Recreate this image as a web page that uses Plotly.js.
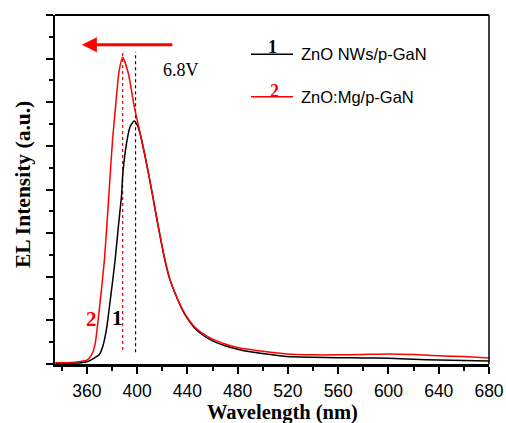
<!DOCTYPE html>
<html>
<head>
<meta charset="utf-8">
<script src="https://cdn.plot.ly/plotly-3.0.1.min.js"></script>
<style>html,body{margin:0;padding:0;background:#fff;}#chart{width:506px;height:423px;}</style>
</head>
<body>
<div id="chart"></div>
<script>
// Series 2: ZnO:Mg/p-GaN (red)
var wlMg = [335, 345, 355, 360, 363.7, 366.4, 368.2, 371.1, 373.8, 375.7, 377.5, 380.4, 382.8, 385.4, 388.4, 392.9, 397.7, 403.5, 408.8, 412.8, 416.7, 422, 426, 431.3, 436, 440, 445, 450, 460, 470, 480, 490, 500, 519, 540, 560, 580, 600, 620, 640, 660, 680];
var elMg = [0.03, 0.03, 0.06, 0.09, 0.21, 0.44, 0.82, 1.58, 2.35, 3.11, 3.88, 5.14, 5.9, 6.67, 7.03, 6.67, 5.9, 5.14, 4.4, 3.78, 3.17, 2.4, 1.95, 1.55, 1.25, 1.06, 0.87, 0.74, 0.57, 0.46, 0.38, 0.33, 0.29, 0.23, 0.21, 0.21, 0.22, 0.23, 0.22, 0.19, 0.17, 0.14];
// Series 1: ZnO NWs/p-GaN (black)
var wlNW = [335, 345, 355, 360, 363.7, 366.5, 369.8, 373, 375.7, 379.1, 382.3, 384.9, 387.6, 388.6, 392, 394.5, 397.7, 400.5, 403.5, 408.8, 412.8, 416.7, 422, 426, 431.3, 436, 440, 445, 450, 460, 470, 480, 490, 500, 519, 540, 560, 580, 600, 620, 640, 660, 680];
var elNW = [0.02, 0.02, 0.03, 0.05, 0.10, 0.15, 0.21, 0.44, 0.82, 1.58, 2.35, 3.11, 3.88, 4.37, 5.14, 5.45, 5.57, 5.45, 5.14, 4.4, 3.78, 3.16, 2.39, 1.94, 1.54, 1.24, 1.04, 0.85, 0.71, 0.53, 0.42, 0.34, 0.28, 0.24, 0.17, 0.155, 0.145, 0.14, 0.13, 0.11, 0.09, 0.08, 0.07];
// Peak markers (dotted guides)
var peakWl = [388.4, 398.7];
var peakTop = [7.2, 7.16];
var peakBottom = [0.32, 0.27];
var seriesNames = ["ZnO NWs/p-GaN", "ZnO:Mg/p-GaN"];
var seriesNums = ["1", "2"];
var voltage = "6.8V";
var xTicks = [360, 400, 440, 480, 520, 560, 600, 640, 680];

var SERIF = "Liberation Serif, Times New Roman, serif";
var SANS = "Liberation Sans, Arial, sans-serif";

var traces = [
  {x: [peakWl[0], peakWl[0]], y: [peakBottom[0], peakTop[0]], mode: "lines", line: {color: "#ff0000", width: 1.2, dash: "dot"}, hoverinfo: "skip"},
  {x: [peakWl[1], peakWl[1]], y: [peakBottom[1], peakTop[1]], mode: "lines", line: {color: "#000000", width: 1.2, dash: "dot"}, hoverinfo: "skip"},
  {x: wlNW, y: elNW, mode: "lines", name: seriesNames[0], line: {color: "#000000", width: 1.5, shape: "spline", smoothing: 0.6}},
  {x: wlMg, y: elMg, mode: "lines", name: seriesNames[1], line: {color: "#ff0000", width: 1.5, shape: "spline", smoothing: 0.6}}
];

function px(x) { return (x - 55) / 434; }
function py(y) { return (364 - y) / 349; }

function ann(x, y, text, font, extra) {
  var a = {x: px(x), y: py(y), xref: "paper", yref: "paper", text: text, showarrow: false,
           xanchor: "center", yanchor: "middle", font: font};
  if (extra) { for (var k in extra) a[k] = extra[k]; }
  return a;
}

var layout = {
  width: 506, height: 423,
  margin: {l: 55, r: 17, t: 15, b: 59},
  showlegend: false,
  paper_bgcolor: "#fff", plot_bgcolor: "#fff",
  xaxis: {
    range: [334.6, 680], showgrid: false, zeroline: false,
    showline: true, linecolor: "#000", linewidth: 2.5,
    ticks: "outside", ticklen: 7, tickwidth: 2, tickcolor: "#000",
    tickmode: "array", tickvals: xTicks, ticktext: xTicks.map(String),
    ticklabelstandoff: 2,
    tickfont: {family: SANS, size: 17.5, color: "#000"},
    minor: {dtick: 40, tick0: 340, ticks: "outside", ticklen: 4, tickwidth: 2, tickcolor: "#000", showgrid: false}
  },
  yaxis: {
    range: [0, 8], showgrid: false, zeroline: false,
    showline: true, linecolor: "#000", linewidth: 2.5,
    ticks: "outside", ticklen: 7, tickwidth: 2, tickcolor: "#000",
    dtick: 1, tick0: 0, showticklabels: false,
    minor: {dtick: 0.5, ticks: "outside", ticklen: 4, tickwidth: 2, tickcolor: "#000", showgrid: false}
  },
  shapes: [
    {type: "line", xref: "paper", yref: "paper", x0: 0, x1: 1, y0: 1, y1: 1, line: {color: "#000", width: 2}},
    {type: "line", xref: "paper", yref: "paper", x0: 1, x1: 1, y0: 0, y1: 1, line: {color: "#000", width: 1.5}},
    // legend samples
    {type: "line", xref: "paper", yref: "paper", x0: px(251), x1: px(293), y0: py(54.3), y1: py(54.3), line: {color: "#000", width: 1.5}},
    {type: "line", xref: "paper", yref: "paper", x0: px(251), x1: px(293), y0: py(96.7), y1: py(96.7), line: {color: "#ff0000", width: 1.5}}
  ],
  annotations: [
    // arrow
    {x: 356, y: 7.32, ax: 429.2, ay: 7.32, xref: "x", yref: "y", axref: "x", ayref: "y", text: "", showarrow: true, arrowhead: 2, arrowsize: 1, arrowwidth: 3, arrowcolor: "#ff0000", standoff: 0},
    {x: 434.5, y: 6.73, xref: "x", yref: "y", text: voltage, showarrow: false, xanchor: "center", yanchor: "middle", font: {family: SERIF, size: 18, color: "#000"}},
    // curve labels
    {x: 364, y: 1.03, xref: "x", yref: "y", text: "<b>" + seriesNums[1] + "</b>", showarrow: false, xanchor: "center", yanchor: "middle", font: {family: SERIF, size: 21, color: "#ff0000"}},
    {x: 384.7, y: 1.05, xref: "x", yref: "y", text: "<b>" + seriesNums[0] + "</b>", showarrow: false, xanchor: "center", yanchor: "middle", font: {family: SERIF, size: 21, color: "#000"}},
    // legend numbers and texts
    ann(272.3, 46.7, "<b>" + seriesNums[0] + "</b>", {family: SERIF, size: 18, color: "#000"}),
    ann(274.3, 91, "<b>" + seriesNums[1] + "</b>", {family: SERIF, size: 18, color: "#ff0000"}),
    ann(299, 54.3, seriesNames[0], {family: SANS, size: 16.5, color: "#000"}, {xanchor: "left"}),
    ann(299, 96.7, seriesNames[1], {family: SANS, size: 16.5, color: "#000"}, {xanchor: "left"}),
    // axis titles
    ann(282, 412, "<b>Wavelength (nm)</b>", {family: SERIF, size: 20.5, color: "#000"}),
    ann(23, 185, "<b>EL Intensity (a.u.)</b>", {family: SERIF, size: 21.5, color: "#000"}, {textangle: -90})
  ]
};

Plotly.newPlot("chart", traces, layout, {displayModeBar: false, staticPlot: true});
</script>
</body>
</html>
